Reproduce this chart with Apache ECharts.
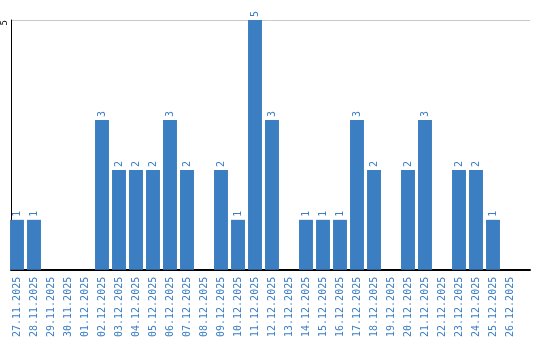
<!DOCTYPE html>
<html><head><meta charset="utf-8">
<script src="https://cdn.jsdelivr.net/npm/echarts@6/dist/echarts.min.js"></script>
<style>html,body{margin:0;padding:0;background:#fff}#c{width:540px;height:340px}</style>
</head><body><div id="c"></div>
<script>
var categories = ["27.11.2025","28.11.2025","29.11.2025","30.11.2025","01.12.2025","02.12.2025","03.12.2025","04.12.2025","05.12.2025","06.12.2025","07.12.2025","08.12.2025","09.12.2025","10.12.2025","11.12.2025","12.12.2025","13.12.2025","14.12.2025","15.12.2025","16.12.2025","17.12.2025","18.12.2025","19.12.2025","20.12.2025","21.12.2025","22.12.2025","23.12.2025","24.12.2025","25.12.2025","26.12.2025"];
var values = [1,1,0,0,0,3,2,2,2,3,2,0,2,1,5,3,0,1,1,1,3,2,0,2,3,0,2,2,1,0];
var yMax = 5;
var blue = '#3b7ec2';
var chart = echarts.init(document.getElementById('c'), null, {renderer:'canvas'});
chart.setOption({
  animation:false,
  grid:[
    {left:8.5, top:20, width:510, height:250},
    {left:10, top:20, right:10, height:250}
  ],
  xAxis:[
    {type:'category', gridIndex:0, data:categories,
     axisLine:{show:false}, axisTick:{show:false}, splitLine:{show:false},
     axisLabel:{rotate:90, interval:0, margin:7, color:blue, fontSize:10, fontFamily:'DejaVu Sans Mono'}},
    {type:'value', gridIndex:1, min:0, max:1, show:true,
     axisLine:{show:true, lineStyle:{color:'#000', width:2}}, axisTick:{show:false},
     axisLabel:{show:false}, splitLine:{show:false}}
  ],
  yAxis:[
    {type:'value', gridIndex:0, min:0, max:yMax, show:false},
    {type:'value', gridIndex:1, min:0, max:yMax, interval:5,
     axisLine:{show:true, lineStyle:{color:'#000', width:1}}, axisTick:{show:false},
     axisLabel:{rotate:90, margin:2, align:'right', color:'#000', fontSize:9, fontFamily:'DejaVu Sans Mono', showMinLabel:false},
     splitLine:{show:true, lineStyle:{color:'#c8c8c8', width:1}}}
  ],
  series:[{
    type:'bar', xAxisIndex:0, yAxisIndex:0, data:values,
    barCategoryGap:'18%',
    itemStyle:{color:blue},
    label:{show:true, position:'top', rotate:90, align:'left', verticalAlign:'middle', distance:3,
      color:blue, fontSize:10, fontFamily:'DejaVu Sans Mono',
      formatter:function(p){return p.value===0?'':String(p.value);}}
  }]
});
</script></body></html>
